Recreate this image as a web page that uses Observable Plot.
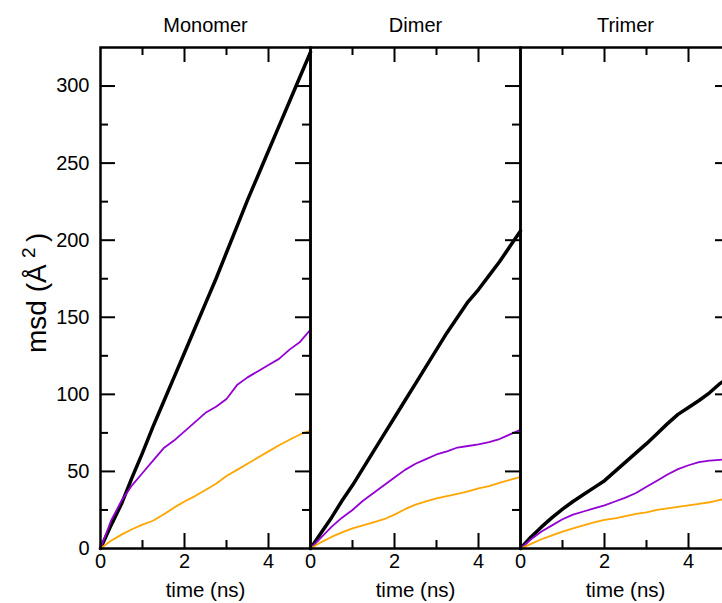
<!DOCTYPE html>
<html><head><meta charset="utf-8">
<script src="https://cdn.jsdelivr.net/npm/d3@7"></script>
<script src="https://cdn.jsdelivr.net/npm/@observablehq/plot@0.6"></script>
<style>html,body{margin:0;padding:0;background:#fff;overflow:hidden;width:722px;height:603px} svg{max-width:none !important;}</style>
</head><body><div id="chart"></div>
<script>
const panels = ["Monomer", "Dimer", "Trimer"];
const seriesNames = ["series 1", "series 2", "series 3"];
const time = [0,0.25,0.5,0.75,1,1.25,1.5,1.75,2,2.25,2.5,2.75,3,3.25,3.5,3.75,4,4.25,4.5,4.75,5];

const monomer1 = [0,15,29,46,62,79,95,111,127,143,159,175,192,209,226,242,258,274,290,306,322];
const monomer2 = [0,18,31,41,49,57,65,70,76,82,88,92,97,106,111,115,119,123,129,134,142];
const monomer3 = [0,5,9,12.5,15.5,18,22,26.5,30.5,34,38,42,47,51,55,59,63,67,70.5,74,76.5];

const dimer1 = [0,10,20,31,41,52,63,74,85,96,107,118,129,140,150,160,168,177,186,196,206];
const dimer2 = [0,7,14,20,25,31,36,41,46,51,55,58,61,63,65.5,66.5,67.5,69,71,74,77];
const dimer3 = [0,4,7.5,10.5,13,15,17,19,22,25.5,28.5,30.5,32.5,34,35.5,37,39,40.5,42.5,44.5,46.5];

const trimer1 = [0,7.5,14,20,25.5,30.5,35,39.5,44,50,56,62,68,74.5,81,87,91.5,96,101,107,112];
const trimer2 = [0,6,11,15,19,22,24,26,28,30.5,33,36,40,44,48,51.5,54,56,57,57.5,58];
const trimer3 = [0,3,6,8.5,11,13,15,17,18.5,19.5,21,22.5,23.5,25,26,27,28,29,30,31.5,33];

const xTickLabels = [0, 2, 4];
const xMajor = [2, 4];
const xMinor = [1, 3];
const yTickLabels = [0, 50, 100, 150, 200, 250, 300];
const yMajor = [50, 100, 150, 200, 250, 300];
const yMinor = [25, 75, 125, 175, 225, 275];
const xTitle = "time (ns)";
const yTitleMain = "msd (Å";
const yTitleSup = "2";
const yTitleClose = ")";

const table = {
  Monomer: [monomer1, monomer2, monomer3],
  Dimer: [dimer1, dimer2, dimer3],
  Trimer: [trimer1, trimer2, trimer3]
};
const rows = [];
for (const p of panels) {
  table[p].forEach((vals, si) => {
    vals.forEach((v, i) => rows.push({panel: p, series: seriesNames[si], t: time[i], v}));
  });
}
const bySeries = s => rows.filter(r => r.series === s);

const font = "'Liberation Sans', Arial, Helvetica, sans-serif";
const FW = 210, FH = 501;
const MAJ = 15, MIN = 8;
const first = () => panels[0];

const chart = Plot.plot({
  width: 740,
  height: 603,
  marginLeft: 100,
  marginRight: 10,
  marginTop: 47,
  marginBottom: 55,
  style: {fontFamily: font, fontSize: "20px", color: "black", background: "white", maxWidth: "none"},
  x: {domain: [0, 5], axis: null},
  y: {domain: [0, 325], axis: null},
  fx: {domain: panels, padding: 0, axis: null},
  marks: [
    Plot.line(bySeries(seriesNames[0]), {x: "t", y: "v", fx: "panel", stroke: "black", strokeWidth: 3.5}),
    Plot.line(bySeries(seriesNames[1]), {x: "t", y: "v", fx: "panel", stroke: "#9400d3", strokeWidth: 1.8}),
    Plot.line(bySeries(seriesNames[2]), {x: "t", y: "v", fx: "panel", stroke: "#ffa500", strokeWidth: 1.8}),
    Plot.tickY(yMajor, {y: d => d, fx: first, insetRight: FW - MAJ, stroke: "black", strokeWidth: 2}),
    Plot.tickY(yMinor, {y: d => d, fx: first, insetRight: FW - MIN, stroke: "black", strokeWidth: 2}),
    Plot.tickY(yMajor, {y: d => d, insetLeft: FW - MAJ, stroke: "black", strokeWidth: 2}),
    Plot.tickY(yMinor, {y: d => d, insetLeft: FW - MIN, stroke: "black", strokeWidth: 2}),
    Plot.tickX(xMajor, {x: d => d, insetBottom: FH - MAJ, stroke: "black", strokeWidth: 2}),
    Plot.tickX(xMinor, {x: d => d, insetBottom: FH - MIN, stroke: "black", strokeWidth: 2}),
    Plot.tickX(xMajor, {x: d => d, insetTop: FH - MAJ, stroke: "black", strokeWidth: 2}),
    Plot.tickX(xMinor, {x: d => d, insetTop: FH - MIN, stroke: "black", strokeWidth: 2}),
    Plot.frame({stroke: "black", strokeWidth: 2.5}),
    Plot.axisY({ticks: yTickLabels, tickFormat: d => String(d), tickSize: 0, tickPadding: 11, fontSize: 20, label: null}),
    Plot.axisX({ticks: xTickLabels, tickFormat: d => String(d), tickSize: 0, tickPadding: 5, fontSize: 20, label: null}),
    Plot.text(panels, {fx: d => d, text: d => d, frameAnchor: "top", dy: -22, lineAnchor: "middle", fontSize: 20}),
    Plot.text(panels, {fx: d => d, text: () => xTitle, frameAnchor: "bottom", dy: 42, lineAnchor: "middle", fontSize: 20.5}),
    Plot.text([yTitleMain], {fx: first, text: d => d, frameAnchor: "left", dx: -55, dy: 55, rotate: -90, textAnchor: "start", lineAnchor: "bottom", fontSize: 28}),
    Plot.text([yTitleSup], {fx: first, text: d => d, frameAnchor: "left", dx: -66, dy: -40, rotate: -90, textAnchor: "start", lineAnchor: "bottom", fontSize: 19}),
    Plot.text([yTitleClose], {fx: first, text: d => d, frameAnchor: "left", dx: -55, dy: -56, rotate: -90, textAnchor: "start", lineAnchor: "bottom", fontSize: 28})
  ]
});
document.getElementById("chart").appendChild(chart);
</script>
</body></html>
